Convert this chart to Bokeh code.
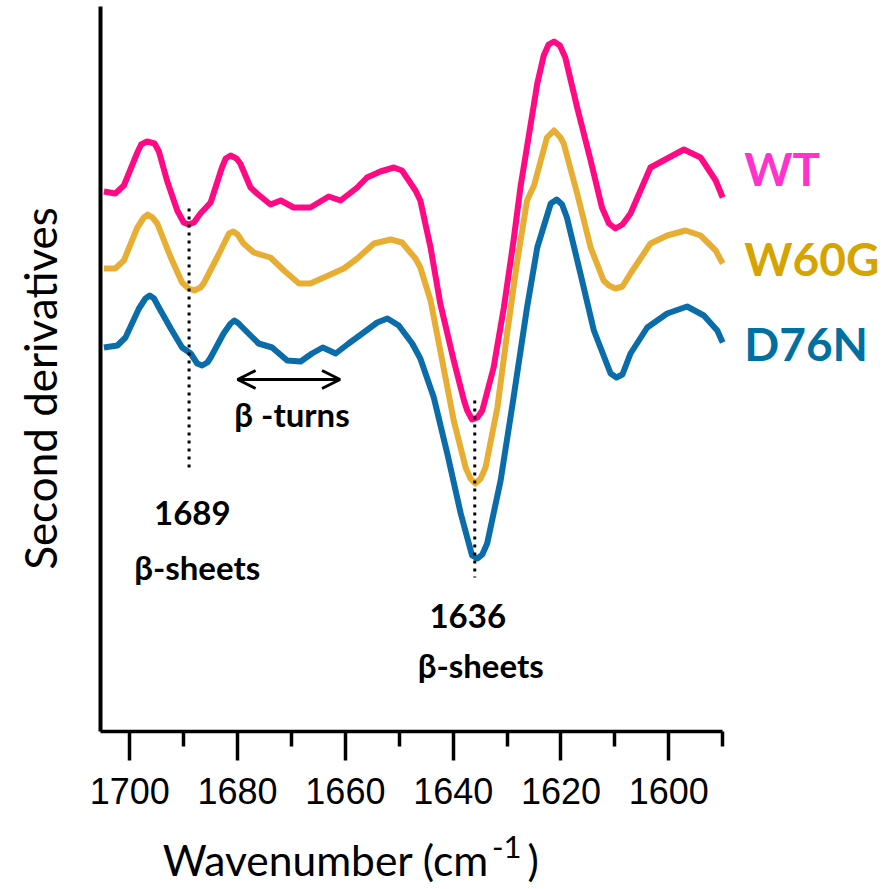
from bokeh.plotting import figure
from bokeh.models import Range1d, FixedTicker, Label, Arrow, OpenHead, LinearAxis, Grid
from bokeh.embed import file_html
from bokeh.resources import INLINE

# Second-derivative FTIR spectra (amide I region), curves offset vertically (arb. units)
wt_wn = [1704.8, 1702.7, 1701.1, 1698.6, 1697.9, 1696.8, 1695.4, 1694.6, 1693.1, 1691.2,
         1690.0, 1689.1, 1688.1, 1686.9, 1685.0, 1682.9, 1682.2, 1681.3, 1680.2, 1679.5,
         1677.6, 1676.4, 1673.9, 1672.0, 1669.6, 1666.5, 1663.1, 1660.9, 1657.8, 1656.0,
         1653.5, 1651.0, 1649.5, 1647.0, 1646.1, 1644.2, 1642.4, 1639.9, 1638.0, 1637.4,
         1636.5, 1635.5, 1634.6, 1632.5, 1630.6, 1628.8, 1627.5, 1624.4, 1623.2, 1622.3,
         1621.3, 1620.2, 1619.2, 1617.0, 1614.5, 1612.4, 1611.1, 1609.9, 1608.6, 1607.1,
         1603.4, 1600.3, 1597.2, 1594.1, 1591.3, 1590.0]
wt_val = [5.40, 5.38, 5.46, 5.79, 5.87, 5.90, 5.88, 5.80, 5.51, 5.21,
          5.09, 5.07, 5.09, 5.18, 5.29, 5.64, 5.73, 5.76, 5.73, 5.68,
          5.44, 5.38, 5.27, 5.31, 5.24, 5.24, 5.35, 5.31, 5.44, 5.54,
          5.60, 5.64, 5.61, 5.41, 5.31, 4.84, 4.28, 3.71, 3.31, 3.21,
          3.12, 3.14, 3.21, 3.64, 4.24, 4.91, 5.45, 6.48, 6.76, 6.87,
          6.90, 6.86, 6.74, 6.24, 5.71, 5.24, 5.08, 5.03, 5.07, 5.18,
          5.64, 5.73, 5.82, 5.74, 5.51, 5.34]

w60g_wn = [1704.8, 1702.7, 1701.1, 1698.6, 1697.4, 1696.7, 1695.8, 1694.9, 1692.4, 1690.3,
           1689.1, 1688.0, 1686.9, 1686.3, 1683.8, 1681.6, 1680.8, 1680.0, 1678.9, 1677.0,
           1673.9, 1671.4, 1668.6, 1666.5, 1664.0, 1660.3, 1657.8, 1654.7, 1651.6, 1649.5,
           1647.0, 1646.1, 1644.2, 1642.4, 1639.9, 1637.7, 1636.8, 1635.9, 1634.9, 1634.0,
           1631.8, 1630.0, 1628.1, 1626.3, 1625.0, 1623.8, 1622.6, 1621.3, 1620.1, 1619.5,
           1617.0, 1614.5, 1612.1, 1611.1, 1609.9, 1608.6, 1607.1, 1603.4, 1600.3, 1596.9,
           1594.1, 1591.3, 1590.0]
w60g_val = [4.63, 4.63, 4.71, 5.04, 5.14, 5.17, 5.14, 5.08, 4.74, 4.49,
            4.43, 4.41, 4.44, 4.48, 4.74, 4.98, 5.00, 4.97, 4.88, 4.79,
            4.74, 4.61, 4.48, 4.48, 4.54, 4.63, 4.73, 4.88, 4.92, 4.89,
            4.73, 4.64, 4.31, 3.81, 3.11, 2.64, 2.53, 2.48, 2.53, 2.64,
            3.24, 3.98, 4.71, 5.31, 5.46, 5.70, 5.94, 6.01, 5.94, 5.88,
            5.38, 4.84, 4.51, 4.46, 4.43, 4.45, 4.58, 4.88, 4.96, 5.01,
            4.96, 4.81, 4.68]

d76n_wn = [1704.8, 1702.3, 1700.8, 1698.3, 1697.1, 1696.3, 1695.5, 1694.6, 1692.4, 1690.3,
           1688.7, 1687.5, 1686.6, 1685.6, 1685.0, 1682.6, 1681.3, 1680.6, 1679.8, 1678.9,
           1676.1, 1673.6, 1670.8, 1668.3, 1666.2, 1664.2, 1661.8, 1659.4, 1656.6, 1654.1,
           1652.2, 1650.1, 1647.6, 1646.1, 1643.6, 1641.1, 1638.6, 1636.5, 1635.5, 1634.6,
           1633.7, 1631.2, 1628.8, 1626.3, 1624.4, 1621.9, 1620.8, 1619.8, 1618.9, 1616.4,
           1613.9, 1610.8, 1609.7, 1608.6, 1607.1, 1604.0, 1600.3, 1596.6, 1593.5, 1591.0,
           1590.0]
d76n_val = [3.84, 3.86, 3.94, 4.23, 4.33, 4.36, 4.33, 4.24, 4.03, 3.84,
            3.78, 3.68, 3.66, 3.69, 3.74, 3.98, 4.08, 4.11, 4.08, 4.03,
            3.88, 3.84, 3.71, 3.70, 3.78, 3.84, 3.78, 3.88, 3.99, 4.09,
            4.13, 4.06, 3.88, 3.73, 3.34, 2.78, 2.18, 1.76, 1.73, 1.77,
            1.88, 2.51, 3.34, 4.24, 4.84, 5.28, 5.32, 5.27, 5.14, 4.58,
            4.01, 3.58, 3.54, 3.57, 3.78, 4.04, 4.18, 4.25, 4.16, 4.01,
            3.89]

series_names = ["WT", "W60G", "D76N"]
line_colors = ["#FF0A84", "#E8AE33", "#0A6CA8"]
label_colors = ["#FF33CC", "#D6A400", "#0070A0"]
label_levels = [5.63, 4.73, 3.88]

major_ticks = [1700, 1680, 1660, 1640, 1620, 1600]
minor_ticks = [1690, 1670, 1650, 1630, 1610, 1590]
x_bounds = (1590, 1705.4)
y_bounds = (0, 7.25)

# band assignments
band_positions = [1689, 1636]
band_names = ["β-sheets", "β-sheets"]
turn_range = [1680, 1661]

# the frame spans the whole canvas so texts outside the axes stay visible;
# the axes sit at fixed data locations with limited bounds
p = figure(width=882, height=889, output_backend="svg", toolbar_location=None,
           x_range=Range1d(1723.99, 1560.35), y_range=Range1d(-1.58, 7.31),
           x_axis_location=None, y_axis_location=None,
           min_border=0, min_border_left=0, min_border_right=0,
           min_border_top=0, min_border_bottom=0)
p.outline_line_color = None
p.background_fill_color = "white"
for g in p.select(type=Grid):
    g.visible = False

xa = LinearAxis(fixed_location=0, bounds=x_bounds,
                ticker=FixedTicker(ticks=major_ticks, minor_ticks=minor_ticks))
xa.axis_line_width = 3.5
xa.major_tick_line_width = 3.5
xa.minor_tick_line_width = 3.5
xa.major_tick_in = 0
xa.major_tick_out = 29
xa.minor_tick_in = 0
xa.minor_tick_out = 15
xa.major_label_text_font = "Liberation Sans"
xa.major_label_text_font_size = "36px"
xa.major_label_text_color = "black"
xa.major_label_standoff = 17
p.add_layout(xa, "below")

ya = LinearAxis(fixed_location=x_bounds[1], bounds=y_bounds, ticker=FixedTicker(ticks=[]))
ya.axis_line_width = 4
ya.major_tick_line_color = None
ya.minor_tick_line_color = None
ya.major_label_text_font_size = "0px"
p.add_layout(ya, "left")

for wn, val, col in [(wt_wn, wt_val, line_colors[0]),
                     (w60g_wn, w60g_val, line_colors[1]),
                     (d76n_wn, d76n_val, line_colors[2])]:
    p.line(wn, val, line_color=col, line_width=6, line_join="round")

# dotted markers at the assigned band positions
p.line([band_positions[0], band_positions[0]], [5.23, 2.64], line_color="black",
       line_width=3, line_dash="3 5")
p.line([band_positions[1], band_positions[1]], [3.31, 1.54], line_color="black",
       line_width=3, line_dash="3 5")

# beta-turn region arrow
p.add_layout(Arrow(x_start=turn_range[0], x_end=turn_range[1], y_start=3.52, y_end=3.52,
                   line_width=3, line_color="black",
                   start=OpenHead(size=18, line_width=3, line_color="black"),
                   end=OpenHead(size=18, line_width=3, line_color="black")))

bold = dict(text_font="Lato", text_font_style="bold", text_color="black",
            text_align="center", text_baseline="middle", text_font_size="33px")
p.add_layout(Label(x=1669.9, y=3.18, text="β -turns", **bold))
p.add_layout(Label(x=1688.4, y=2.19, text=str(band_positions[0]), **bold))
p.add_layout(Label(x=1687.5, y=1.65, text=band_names[0], **bold))
p.add_layout(Label(x=1637.3, y=1.16, text=str(band_positions[1]), **bold))
p.add_layout(Label(x=1634.9, y=0.67, text=band_names[1], **bold))

# series names at the right end of each curve
for name, col, lvl in zip(series_names, label_colors, label_levels):
    p.add_layout(Label(x=1586.0, y=lvl, text=name, text_font="Lato", text_font_style="bold",
                       text_font_size="46px", text_color=col, text_align="left",
                       text_baseline="middle"))

# axis titles
p.add_layout(Label(x=1716.6, y=3.43, text="Second derivatives", angle=1.5707963,
                   text_font="Lato", text_font_size="44px", text_color="black",
                   text_align="center", text_baseline="middle"))
p.add_layout(Label(x=1693.9, y=-1.28, text="Wavenumber (cm", text_font="Lato",
                   text_font_size="42.5px", text_color="black", text_align="left",
                   text_baseline="middle"))
p.add_layout(Label(x=1632.8, y=-1.15, text="-1", text_font="Lato",
                   text_font_size="31px", text_color="black", text_align="left",
                   text_baseline="middle"))
p.add_layout(Label(x=1626.2, y=-1.28, text=")", text_font="Lato",
                   text_font_size="42.5px", text_color="black", text_align="left",
                   text_baseline="middle"))

open("out.html", "w").write(file_html(p, INLINE))
